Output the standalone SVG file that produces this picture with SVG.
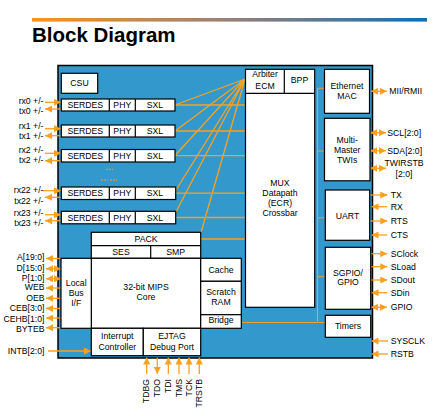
<svg xmlns="http://www.w3.org/2000/svg" width="440" height="416" viewBox="0 0 440 416">
<style>
.t{font-family:"Liberation Sans",Arial,sans-serif;font-size:8.7px;fill:#000}
.m{text-anchor:middle}
.e{text-anchor:end}
.b{fill:#fff;stroke:#000;stroke-width:1.2}
.k{stroke:#000;stroke-width:1.2;fill:none}
.w{stroke:#f9a11f;stroke-width:1.3;fill:none}
.bus{stroke:#f0a030;stroke-width:1.1;fill:none}
.a{stroke:#f9a11f;stroke-width:1.3;fill:none;marker-end:url(#ah)}
.d{stroke:#f9a11f;stroke-width:1.3;fill:none;marker-end:url(#ah);marker-start:url(#ahs)}
</style>
<defs>
<linearGradient id="bar" x1="0" x2="1" y1="0" y2="0">
<stop offset="0" stop-color="#f7941d"/>
<stop offset="0.5" stop-color="#9a8078"/>
<stop offset="1" stop-color="#0d6fb8"/>
</linearGradient>
<marker id="ah" viewBox="0 0 7 7" refX="7" refY="3.5" markerWidth="7" markerHeight="7" markerUnits="userSpaceOnUse" orient="auto"><path d="M0,0 L7,3.5 L0,7 z" fill="#f9a11f"/></marker>
<marker id="ahs" viewBox="0 0 7 7" refX="7" refY="3.5" markerWidth="7" markerHeight="7" markerUnits="userSpaceOnUse" orient="auto-start-reverse"><path d="M0,0 L7,3.5 L0,7 z" fill="#f9a11f"/></marker>
</defs>

<rect x="32" y="18" width="395" height="3.6" fill="url(#bar)"/>
<text x="32" y="42" style="font-family:'Liberation Sans',Arial,sans-serif;font-size:20.5px;font-weight:bold" fill="#000">Block Diagram</text>

<rect id="chip" x="58" y="65.5" width="314.5" height="292.5" fill="#3399cc" stroke="#000" stroke-width="1.5"/>

<g id="connectors">
<path class="w" d="M175,105 L245,79 M175,131 L245,79 M175,155.5 L245,79 M176,190 L245,79 M176,212 L245,79 M201,232.5 L245,79"/>
<path class="w" d="M175,105 H245.5 M175,131 H245.5 M175,155.7 H245.5 M175,193.2 H245.5 M175,217.5 H245.5 M200.7,239 H245.5"/>
<path class="bus" d="M317.5,88.3 V322.5 M317.5,88.3 H324.5 M317.5,151 H324.5 M317.5,217.7 H325 M317.5,276.7 H325 M241.3,322.5 H325"/>
<path fill="none" stroke="#f9a11f" stroke-width="1" stroke-dasharray="2,1" d="M106,169.3 H113 M101,180 H108 M110,180 H117"/>
<!-- left serdes arrows -->
<line class="a" x1="45" y1="102.3" x2="61" y2="102.3"/>
<line class="a" x1="61" y1="109" x2="45" y2="109"/>
<line class="a" x1="45" y1="128.7" x2="61" y2="128.7"/>
<line class="a" x1="61" y1="135.7" x2="45" y2="135.7"/>
<line class="a" x1="45" y1="153.3" x2="61" y2="153.3"/>
<line class="a" x1="61" y1="160.7" x2="45" y2="160.7"/>
<line class="a" x1="43" y1="190.7" x2="61" y2="190.7"/>
<line class="a" x1="61" y1="197.3" x2="45" y2="197.3"/>
<line class="a" x1="45" y1="214.7" x2="61" y2="214.7"/>
<line class="a" x1="61" y1="220.7" x2="45" y2="220.7"/>
<!-- local bus arrows -->
<line class="a" x1="61" y1="258.5" x2="46" y2="258.5"/>
<line class="d" x1="46" y1="268.7" x2="61" y2="268.7"/>
<line class="d" x1="46" y1="278.7" x2="61" y2="278.7"/>
<line class="a" x1="61" y1="288" x2="46" y2="288"/>
<line class="a" x1="61" y1="298.3" x2="46" y2="298.3"/>
<line class="a" x1="61" y1="308.5" x2="46" y2="308.5"/>
<line class="a" x1="61" y1="318" x2="46" y2="318"/>
<line class="a" x1="61" y1="327.7" x2="46" y2="327.7"/>
<line class="a" x1="48" y1="351" x2="91" y2="351"/>
<!-- jtag -->
<line class="a" x1="146.7" y1="374" x2="146.7" y2="357.5"/>
<line class="a" x1="157.3" y1="357.5" x2="157.3" y2="374"/>
<line class="a" x1="168.3" y1="374" x2="168.3" y2="357.5"/>
<line class="a" x1="179" y1="374" x2="179" y2="357.5"/>
<line class="a" x1="189" y1="374" x2="189" y2="357.5"/>
<line class="a" x1="199.3" y1="374" x2="199.3" y2="357.5"/>
<!-- right side -->
<line class="d" x1="371" y1="91.3" x2="387" y2="91.3"/>
<line class="d" x1="370" y1="132.7" x2="386" y2="132.7"/>
<line class="d" x1="370" y1="150.7" x2="386" y2="150.7"/>
<line class="d" x1="370" y1="168.3" x2="386" y2="168.3"/>
<line class="a" x1="370" y1="195" x2="387.3" y2="195"/>
<line class="a" x1="387.3" y1="206.7" x2="371.5" y2="206.7"/>
<line class="a" x1="370" y1="221" x2="387.3" y2="221"/>
<line class="a" x1="387.3" y1="235" x2="371.5" y2="235"/>
<line class="a" x1="370" y1="253.7" x2="387.3" y2="253.7"/>
<line class="a" x1="370" y1="266.7" x2="387.3" y2="266.7"/>
<line class="a" x1="370" y1="280" x2="387.3" y2="280"/>
<line class="a" x1="387.3" y1="292.7" x2="371.5" y2="292.7"/>
<line class="d" x1="371" y1="307.3" x2="387" y2="307.3"/>
<line class="a" x1="388" y1="341" x2="371.5" y2="341"/>
<line class="a" x1="388" y1="354" x2="371.5" y2="354"/>
</g>

<g id="csu"><rect class="b" x="61.3" y="73.3" width="36.4" height="20"/><text class="t m" x="79.5" y="86.4">CSU</text></g>

<g id="serdes0"><rect class="b" x="61.3" y="99" width="113.7" height="12"/><path class="k" d="M109.3,99 V111 M135.3,99 V111"/>
<text class="t m" x="85.3" y="108.1">SERDES</text><text class="t m" x="122.3" y="108.1">PHY</text><text class="t m" x="155" y="108.1">SXL</text></g>
<g id="serdes1"><rect class="b" x="61.3" y="125" width="113.7" height="12"/><path class="k" d="M109.3,125 V137 M135.3,125 V137"/>
<text class="t m" x="85.3" y="134.1">SERDES</text><text class="t m" x="122.3" y="134.1">PHY</text><text class="t m" x="155" y="134.1">SXL</text></g>
<g id="serdes2"><rect class="b" x="61.3" y="149.5" width="113.7" height="12.5"/><path class="k" d="M109.3,149.5 V162 M135.3,149.5 V162"/>
<text class="t m" x="85.3" y="158.8">SERDES</text><text class="t m" x="122.3" y="158.8">PHY</text><text class="t m" x="155" y="158.8">SXL</text></g>
<g id="serdes22"><rect class="b" x="61.3" y="187" width="114.4" height="12.5"/><path class="k" d="M109.3,187 V199.5 M135.3,187 V199.5"/>
<text class="t m" x="85.3" y="196.3">SERDES</text><text class="t m" x="122.3" y="196.3">PHY</text><text class="t m" x="155" y="196.3">SXL</text></g>
<g id="serdes23"><rect class="b" x="61.3" y="211.3" width="114.4" height="12.5"/><path class="k" d="M109.3,211.3 V223.8 M135.3,211.3 V223.8"/>
<text class="t m" x="85.3" y="220.6">SERDES</text><text class="t m" x="122.3" y="220.6">PHY</text><text class="t m" x="155" y="220.6">SXL</text></g>

<g id="labels-left">
<text class="t e" x="43.5" y="104.2">rx0 +/-</text>
<text class="t e" x="43.5" y="114.1">tx0 +/-</text>
<text class="t e" x="43.5" y="128.8">rx1 +/-</text>
<text class="t e" x="43.5" y="139.1">tx1 +/-</text>
<text class="t e" x="43.5" y="153.1">rx2 +/-</text>
<text class="t e" x="43.5" y="163.1">tx2 +/-</text>
<text class="t e" x="43.5" y="193.1">rx22 +/-</text>
<text class="t e" x="43.5" y="203.8">tx22 +/-</text>
<text class="t e" x="43.5" y="215.8">rx23 +/-</text>
<text class="t e" x="43.5" y="226.4">tx23 +/-</text>
<text class="t e" x="44.5" y="260.4">A[19:0]</text>
<text class="t e" x="44.5" y="270.6">D[15:0]</text>
<text class="t e" x="44.5" y="280.6">P[1:0]</text>
<text class="t e" x="44.5" y="290.4">WEB</text>
<text class="t e" x="44.5" y="300.8">OEB</text>
<text class="t e" x="44.5" y="311.4">CEB[3:0]</text>
<text class="t e" x="44.5" y="322.4">CEHB[1:0]</text>
<text class="t e" x="44.5" y="332.4">BYTEB</text>
<text class="t e" x="44.5" y="354.1">INTB[2:0]</text>
</g>

<g id="pack"><rect class="b" x="91.3" y="232.3" width="109.4" height="26"/><path class="k" d="M91.3,245.7 H200.7 M150.7,245.7 V258.3"/>
<text class="t m" x="146" y="241.8">PACK</text><text class="t m" x="121" y="254.8">SES</text><text class="t m" x="175.7" y="254.8">SMP</text></g>
<g id="core"><rect class="b" x="91.3" y="258.3" width="109.4" height="70"/><text class="t m" x="146" y="290.4">32-bit MIPS</text><text class="t m" x="146" y="300.4">Core</text></g>
<g id="localbus"><rect class="b" x="61" y="258.3" width="30.3" height="70"/><text class="t m" x="76.2" y="285.8">Local</text><text class="t m" x="76.2" y="296">Bus</text><text class="t m" x="76.2" y="306.3">I/F</text></g>
<g id="intc"><rect class="b" x="91.3" y="328.3" width="52" height="27.4"/><text class="t m" x="117.3" y="338.8">Interrupt</text><text class="t m" x="117.3" y="349.8">Controller</text></g>
<g id="ejtag"><rect class="b" x="143.3" y="328.3" width="57.4" height="27.4"/><text class="t m" x="172" y="338.8">EJTAG</text><text class="t m" x="172" y="349.8">Debug Port</text></g>
<g id="cache"><rect class="b" x="200.7" y="258.3" width="40.6" height="23"/><text class="t m" x="221" y="273.1">Cache</text></g>
<g id="scratch"><rect class="b" x="200.7" y="281.3" width="40.6" height="33.4"/><text class="t m" x="221" y="294.8">Scratch</text><text class="t m" x="221" y="305.4">RAM</text></g>
<g id="bridge"><rect class="b" x="200.7" y="314.7" width="40.6" height="13.6"/><text class="t m" x="221" y="323.4">Bridge</text></g>

<g id="mux"><rect class="b" x="245.5" y="69.3" width="69.2" height="238"/><path class="k" d="M245.5,93.3 H314.7 M284.3,69.3 V93.3"/>
<text class="t m" x="265" y="77.2">Arbiter</text><text class="t m" x="265" y="89">ECM</text><text class="t m" x="299.5" y="83.2">BPP</text>
<text class="t m" x="280" y="185.8">MUX</text><text class="t m" x="280" y="196.2">Datapath</text><text class="t m" x="280" y="206.4">(ECR)</text><text class="t m" x="280" y="216.4">Crossbar</text></g>

<g id="eth"><rect class="b" x="324.5" y="69.3" width="45" height="44"/><text class="t m" x="347" y="89.1">Ethernet</text><text class="t m" x="347" y="99.1">MAC</text></g>
<g id="twi"><rect class="b" x="324.5" y="118.3" width="45.5" height="62.5"/><text class="t m" x="347.2" y="143.1">Multi-</text><text class="t m" x="347.2" y="153.1">Master</text><text class="t m" x="347.2" y="163.1">TWIs</text></g>
<g id="uart"><rect class="b" x="325.3" y="190" width="44.4" height="50.3"/><text class="t m" x="347.5" y="219.1">UART</text></g>
<g id="sgpio"><rect class="b" x="325.3" y="247.3" width="45.4" height="62"/><text class="t m" x="348" y="275.8">SGPIO/</text><text class="t m" x="348" y="285.1">GPIO</text></g>
<g id="timers"><rect class="b" x="325.3" y="315.3" width="45.4" height="22"/><text class="t m" x="348" y="329.1">Timers</text></g>

<g id="labels-right">
<text class="t" x="389.3" y="94.4">MII/RMII</text>
<text class="t" x="387.3" y="136.4">SCL[2:0]</text>
<text class="t" x="387.3" y="153.8">SDA[2:0]</text>
<text class="t m" x="404" y="166.4">TWIRSTB</text>
<text class="t m" x="404" y="177.1">[2:0]</text>
<text class="t" x="390.7" y="198.1">TX</text>
<text class="t" x="390.7" y="209.8">RX</text>
<text class="t" x="390.7" y="224.1">RTS</text>
<text class="t" x="390.7" y="238.1">CTS</text>
<text class="t" x="390.7" y="256.8">SClock</text>
<text class="t" x="390.7" y="269.8">SLoad</text>
<text class="t" x="390.7" y="283.1">SDout</text>
<text class="t" x="390.7" y="295.8">SDin</text>
<text class="t" x="390.7" y="310.4">GPIO</text>
<text class="t" x="390.7" y="344.1">SYSCLK</text>
<text class="t" x="390.7" y="357.1">RSTB</text>
</g>

<g id="labels-jtag">
<text class="t e" transform="translate(149,379) rotate(-90)">TDBG</text>
<text class="t e" transform="translate(160,379) rotate(-90)">TDO</text>
<text class="t e" transform="translate(171,379) rotate(-90)">TDI</text>
<text class="t e" transform="translate(181.6,379) rotate(-90)">TMS</text>
<text class="t e" transform="translate(192,379) rotate(-90)">TCK</text>
<text class="t e" transform="translate(202,379) rotate(-90)">TRSTB</text>
</g>
</svg>
